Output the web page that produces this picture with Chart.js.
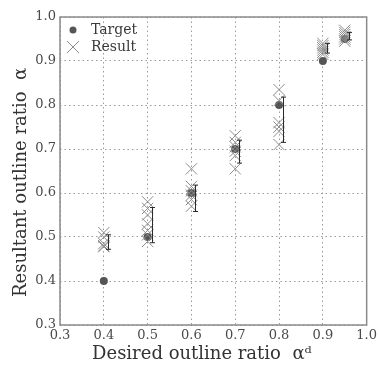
<!DOCTYPE html>
<html>
<head>
<meta charset="utf-8">
<script src="https://cdn.jsdelivr.net/npm/chart.js@4.4.1/dist/chart.umd.min.js"></script>
<style>
  html, body { margin: 0; padding: 0; background: #fff; }
  #wrap { width: 380px; height: 365px; }
</style>
</head>
<body>
<div id="wrap"><canvas id="chart"></canvas></div>
<script>
// desired outline ratio (x) and the target value for each
const desired = [0.4, 0.5, 0.6, 0.7, 0.8, 0.9, 0.95];
const targets = [0.4, 0.5, 0.6, 0.7, 0.8, 0.9, 0.95];

// measured results per desired ratio
const results = [
  [0.51, 0.50, 0.485, 0.48, 0.478],
  [0.58, 0.565, 0.55, 0.53, 0.515, 0.505, 0.49],
  [0.655, 0.615, 0.605, 0.595, 0.585, 0.57],
  [0.73, 0.715, 0.705, 0.695, 0.685, 0.655],
  [0.835, 0.81, 0.76, 0.75, 0.74, 0.71],
  [0.94, 0.935, 0.93, 0.925, 0.92, 0.915],
  [0.97, 0.965, 0.96, 0.955, 0.95, 0.945]
];

// error bars (std range) per desired ratio
const errLow  = [0.472, 0.487, 0.558, 0.668, 0.715, 0.918, 0.948];
const errHigh = [0.505, 0.567, 0.618, 0.720, 0.818, 0.940, 0.965];
const errShift = 0.009;

const tickValues = [0.3, 0.4, 0.5, 0.6, 0.7, 0.8, 0.9, 1.0];

const serif = "'DejaVu Serif', 'Liberation Serif', serif";
const targetColor = '#555555';
const resultColor = '#8c8c8c';
const pad = '\u00a0\u00a0\u00a0\u00a0'; // titles sit a bit off-centre in the original

const targetPoints = desired.map((d, i) => ({ x: d, y: targets[i] }));
const resultPoints = [];
results.forEach((list, i) => list.forEach(v => resultPoints.push({ x: desired[i], y: v })));

const errorBars = {
  id: 'errorBars',
  afterDatasetsDraw(chart) {
    const { ctx, scales: { x, y } } = chart;
    ctx.save();
    ctx.strokeStyle = '#2a2a2a';
    ctx.lineWidth = 1;
    desired.forEach((d, i) => {
      const px = Math.round(x.getPixelForValue(d + errShift)) + 0.5;
      const y1 = y.getPixelForValue(errLow[i]);
      const y2 = y.getPixelForValue(errHigh[i]);
      ctx.beginPath();
      ctx.moveTo(px, y1); ctx.lineTo(px, y2);
      ctx.moveTo(px - 2.5, y1); ctx.lineTo(px + 2.5, y1);
      ctx.moveTo(px - 2.5, y2); ctx.lineTo(px + 2.5, y2);
      ctx.stroke();
    });
    ctx.restore();
  }
};

const frame = {
  id: 'frame',
  afterDraw(chart) {
    const { ctx, chartArea: a } = chart;
    ctx.save();
    ctx.strokeStyle = '#8a8a8a';
    ctx.lineWidth = 1.5;
    ctx.strokeRect(a.left, a.top, a.right - a.left, a.bottom - a.top);

    // legend inside the plot, top-left
    const lx = a.left + 13, ly1 = a.top + 13, ly2 = a.top + 30;
    ctx.fillStyle = targetColor;
    ctx.beginPath(); ctx.arc(lx, ly1, 3.5, 0, Math.PI * 2); ctx.fill();
    ctx.strokeStyle = resultColor;
    ctx.lineWidth = 1;
    ctx.beginPath();
    ctx.moveTo(lx - 6, ly2 - 6); ctx.lineTo(lx + 6, ly2 + 6);
    ctx.moveTo(lx - 6, ly2 + 6); ctx.lineTo(lx + 6, ly2 - 6);
    ctx.stroke();
    ctx.fillStyle = '#3a3a3a';
    ctx.font = '14px ' + serif;
    ctx.textBaseline = 'middle';
    ctx.fillText('Target', lx + 18, ly1);
    ctx.fillText('Result', lx + 18, ly2);
    ctx.restore();
  }
};

new Chart(document.getElementById('chart'), {
  type: 'scatter',
  data: {
    datasets: [
      {
        label: 'Result',
        data: resultPoints,
        pointStyle: 'crossRot',
        pointRadius: 8,
        borderColor: resultColor,
        backgroundColor: resultColor,
        borderWidth: 1
      },
      {
        label: 'Target',
        data: targetPoints,
        pointStyle: 'circle',
        pointRadius: 4,
        borderWidth: 0,
        backgroundColor: targetColor,
        borderColor: targetColor
      }
    ]
  },
  options: {
    responsive: true,
    maintainAspectRatio: false,
    animation: false,
    layout: { padding: { top: 17, right: 12, left: 0, bottom: 0 } },
    plugins: {
      legend: { display: false },
      tooltip: { enabled: false }
    },
    scales: {
      x: {
        type: 'linear',
        min: 0.3,
        max: 1.0,
        afterBuildTicks: s => { s.ticks = tickValues.map(v => ({ value: v })); },
        afterFit: s => { s.height = 40; },
        ticks: {
          color: '#4a4a4a',
          font: { family: serif, size: 13 },
          padding: 3,
          maxRotation: 0,
          callback: v => v.toFixed(1)
        },
        grid: { color: '#9a9a9a', lineWidth: 1, drawTicks: false },
        border: { display: false, dash: [1.5, 3] },
        title: {
          display: true,
          text: 'Desired outline ratio  \u03b1\u1d48' + pad,
          color: '#333',
          font: { family: serif, size: 18 },
          padding: { top: 0, bottom: 0 }
        }
      },
      y: {
        type: 'linear',
        min: 0.3,
        max: 1.0,
        afterBuildTicks: s => { s.ticks = tickValues.map(v => ({ value: v })); },
        afterFit: s => { s.width = 60; },
        ticks: {
          color: '#4a4a4a',
          font: { family: serif, size: 13 },
          padding: 4,
          callback: v => v.toFixed(1)
        },
        grid: { color: '#9a9a9a', lineWidth: 1, drawTicks: false },
        border: { display: false, dash: [1.5, 3] },
        title: {
          display: true,
          text: 'Resultant outline ratio  \u03b1' + pad,
          color: '#333',
          font: { family: serif, size: 18 },
          padding: { top: 11, bottom: 0 }
        }
      }
    }
  },
  plugins: [errorBars, frame]
});
</script>
</body>
</html>
